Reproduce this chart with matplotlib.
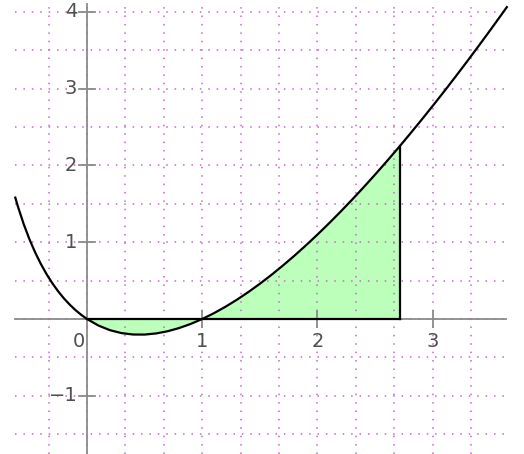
import numpy as np
import matplotlib
matplotlib.use("Agg")
import matplotlib.pyplot as plt

# Curve samples
x_vals = [-0.625, -0.6, -0.55, -0.5, -0.45, -0.4, -0.35, -0.3, -0.25, -0.2, -0.15, -0.1, -0.05,
          0.0, 0.1, 0.2, 0.3, 0.4, 0.5, 0.6, 0.7, 0.8, 0.9, 1.0, 1.1, 1.2, 1.3, 1.4, 1.5,
          1.6, 1.7, 1.8, 1.9, 2.0, 2.1, 2.2, 2.3, 2.4, 2.5, 2.6, 2.7, 2.718, 2.8, 2.9,
          3.0, 3.1, 3.2, 3.3, 3.4, 3.5, 3.6, 3.65]
y_vals = [1.5938, 1.4661, 1.2377, 1.0397, 0.8669, 0.7152, 0.5816, 0.4637, 0.3596, 0.2678, 0.1869, 0.1159, 0.0539,
          0.0, -0.0858, -0.1459, -0.1837, -0.2019, -0.2027, -0.1880, -0.1592, -0.1176, -0.0642, 0.0, 0.0742, 0.1577, 0.2499, 0.3502, 0.4581,
          0.5733, 0.6953, 0.8237, 0.9582, 1.0986, 1.2445, 1.3958, 1.5521, 1.7133, 1.8791, 2.0495, 2.2242, 2.2562, 2.4030, 2.5859,
          2.7726, 2.9631, 3.1572, 3.3548, 3.5558, 3.7602, 3.9678, 4.0727]
fill_from = 0.0
fill_to = 2.718
x_ticks = [1, 2, 3]
y_ticks = [-1, 1, 2, 3, 4]

W, H = 524, 454
fig = plt.figure(figsize=(W / 100, H / 100), dpi=100)
ax = fig.add_axes([0, 0, 1, 1])
px_x, ox = 115.2, 87.0
px_y, oy = 76.8, 319.0
ax.set_xlim(-ox / px_x, (W - ox) / px_x)
ax.set_ylim((oy - H) / px_y, oy / px_y)
ax.axis("off")

xmin, xmax = -0.625, 3.637
ymin, ymax = (oy - H) / px_y, 4.10

grid_c = "#c468c8"
ls = (0, (1.0, 4.5))
for gx in np.arange(-1, 12) / 3.0:
    if xmin <= gx <= xmax:
        ax.plot([gx, gx], [ymin, ymax], color=grid_c, lw=1.1, ls=ls, zorder=2)
for gy in np.arange(-3, 9) * 0.5:
    if ymin <= gy <= ymax:
        ax.plot([xmin, xmax], [gy, gy], color=grid_c, lw=1.1, ls=ls, zorder=2)

xs = np.array(x_vals)
ys = np.array(y_vals)
mask = (xs >= fill_from) & (xs <= fill_to)
ax.fill_between(xs[mask], ys[mask], 0, color="#bbffbb", lw=0, zorder=1)

# axes
ax_c = "#8a8a8a"
ax.plot([xmin, xmax], [0, 0], color=ax_c, lw=1.3, zorder=3)
ax.plot([0, 0], [ymin, ymax], color=ax_c, lw=1.3, zorder=3)
dx, dy = 8 / px_x, 8 / px_y
for t in x_ticks:
    ax.plot([t, t], [-dy, dy], color=ax_c, lw=1.3, zorder=3)
for t in y_ticks:
    ax.plot([-dx, dx], [t, t], color=ax_c, lw=1.3, zorder=3)

# region outline
ax.plot([fill_from, fill_to], [0, 0], color="black", lw=1.6, zorder=4)
ax.plot([fill_to, fill_to], [0, ys[mask][-1]], color="black", lw=1.6, zorder=4)
ax.plot(xs, ys, color="black", lw=1.6, zorder=5, solid_capstyle="butt")

txt_c = "#505050"
fs = 14
for t in x_ticks:
    ax.annotate(str(t), (t, 0), xytext=(0, -16), textcoords="offset points",
                ha="center", va="center", fontsize=fs, color=txt_c)
ax.annotate("0", (0, 0), xytext=(-5.5, -16), textcoords="offset points",
            ha="center", va="center", fontsize=fs, color=txt_c)
for t in y_ticks:
    lab = str(t).replace("-", "\u2212")
    ax.annotate(lab, (0, t), xytext=(-7, 0), textcoords="offset points",
                ha="right", va="center", fontsize=fs, color=txt_c)

fig.savefig("out.png", dpi=100)
